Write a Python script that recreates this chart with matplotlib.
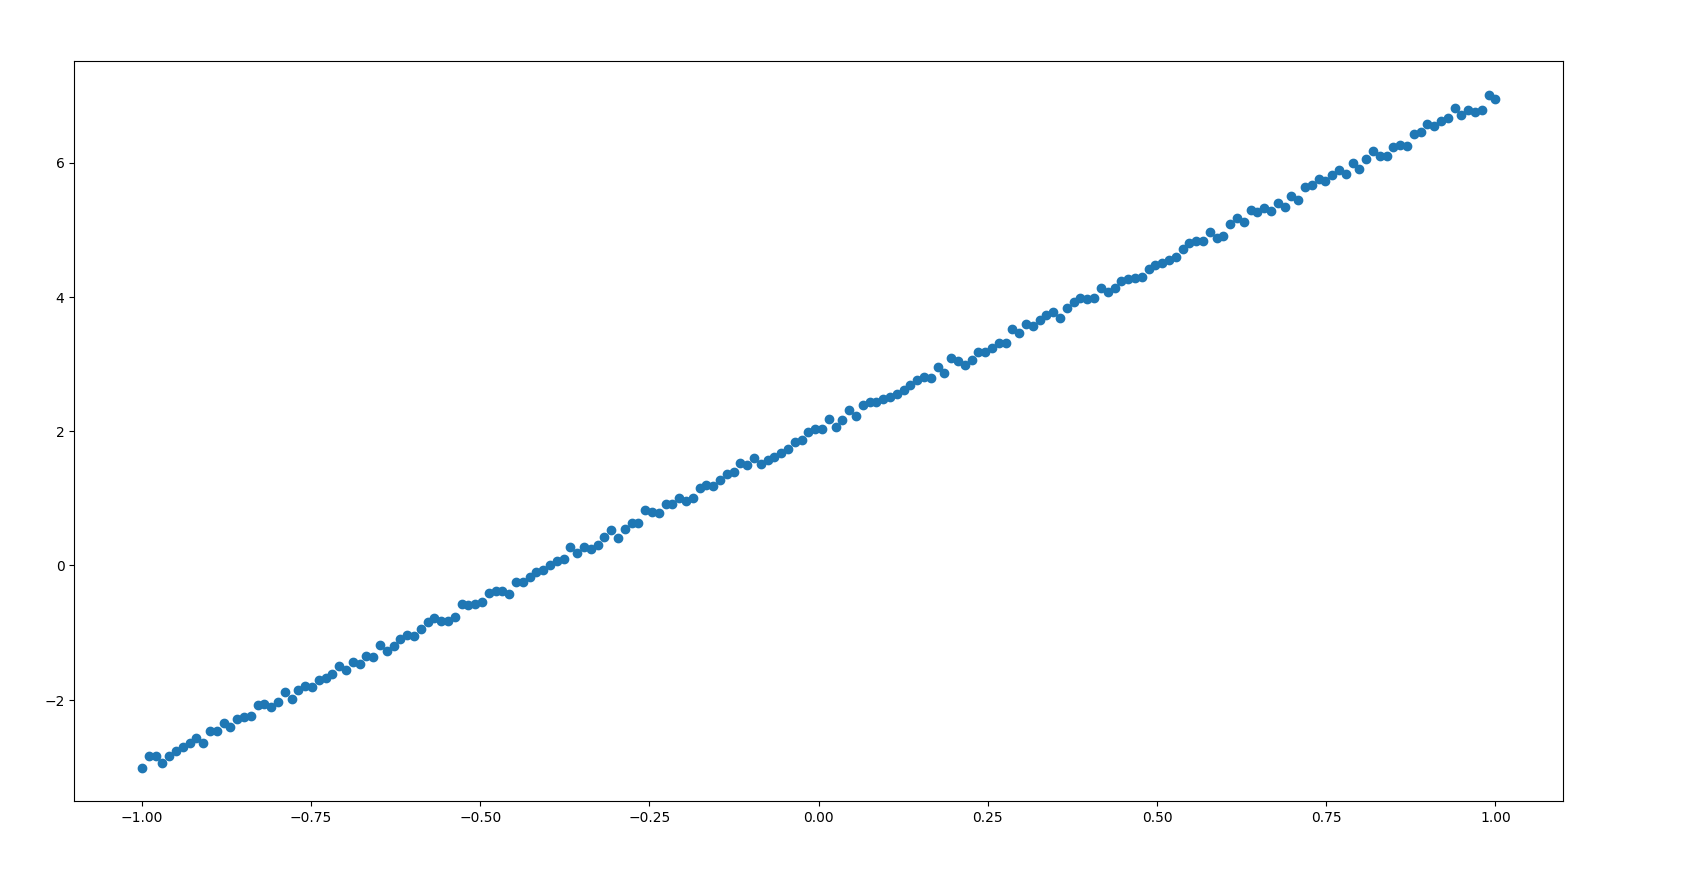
import numpy as np
import matplotlib
matplotlib.use('Agg')
import matplotlib.pyplot as plt

# y values, 200 evenly spaced samples on [-1, 1]
y = [
    -3.01, -2.83, -2.84, -2.94, -2.83, -2.76, -2.70, -2.65, -2.57, -2.64,
    -2.47, -2.46, -2.34, -2.41, -2.28, -2.26, -2.24, -2.08, -2.07, -2.11,
    -2.03, -1.89, -1.99, -1.86, -1.80, -1.81, -1.70, -1.67, -1.61, -1.50,
    -1.56, -1.43, -1.46, -1.35, -1.37, -1.18, -1.28, -1.20, -1.09, -1.03,
    -1.05, -0.94, -0.84, -0.78, -0.82, -0.82, -0.77, -0.57, -0.59, -0.58,
    -0.55, -0.41, -0.38, -0.38, -0.42, -0.245, -0.245, -0.17, -0.10, -0.06,
    0.01, 0.07, 0.09, 0.28, 0.19, 0.27, 0.24, 0.31, 0.42, 0.53,
    0.41, 0.54, 0.63, 0.63, 0.83, 0.80, 0.78, 0.92, 0.91, 1.00,
    0.96, 1.00, 1.15, 1.20, 1.19, 1.28, 1.36, 1.39, 1.53, 1.49,
    1.60, 1.51, 1.57, 1.61, 1.67, 1.74, 1.84, 1.87, 1.99, 2.03,
    2.03, 2.18, 2.07, 2.17, 2.31, 2.22, 2.39, 2.43, 2.44, 2.48,
    2.51, 2.55, 2.62, 2.69, 2.77, 2.81, 2.79, 2.95, 2.86, 3.09,
    3.05, 2.99, 3.06, 3.18, 3.18, 3.24, 3.32, 3.31, 3.52, 3.47,
    3.59, 3.56, 3.65, 3.73, 3.78, 3.69, 3.83, 3.93, 3.98, 3.97,
    3.98, 4.13, 4.07, 4.14, 4.23, 4.26, 4.28, 4.29, 4.42, 4.47,
    4.51, 4.55, 4.59, 4.71, 4.81, 4.84, 4.83, 4.97, 4.88, 4.91,
    5.08, 5.18, 5.11, 5.30, 5.27, 5.32, 5.28, 5.40, 5.34, 5.50,
    5.45, 5.63, 5.66, 5.76, 5.73, 5.81, 5.89, 5.83, 5.99, 5.91,
    6.06, 6.17, 6.10, 6.10, 6.23, 6.27, 6.25, 6.43, 6.46, 6.57,
    6.54, 6.62, 6.66, 6.82, 6.71, 6.79, 6.76, 6.78, 7.01, 6.95,
]
x = np.linspace(-1, 1, len(y))

fig, ax = plt.subplots(figsize=(16.843, 8.783), dpi=100)
fig.subplots_adjust(left=0.0441, right=0.928, bottom=0.0874, top=0.930)

ax.scatter(x, y)

fig.savefig('out.png', dpi=100)
